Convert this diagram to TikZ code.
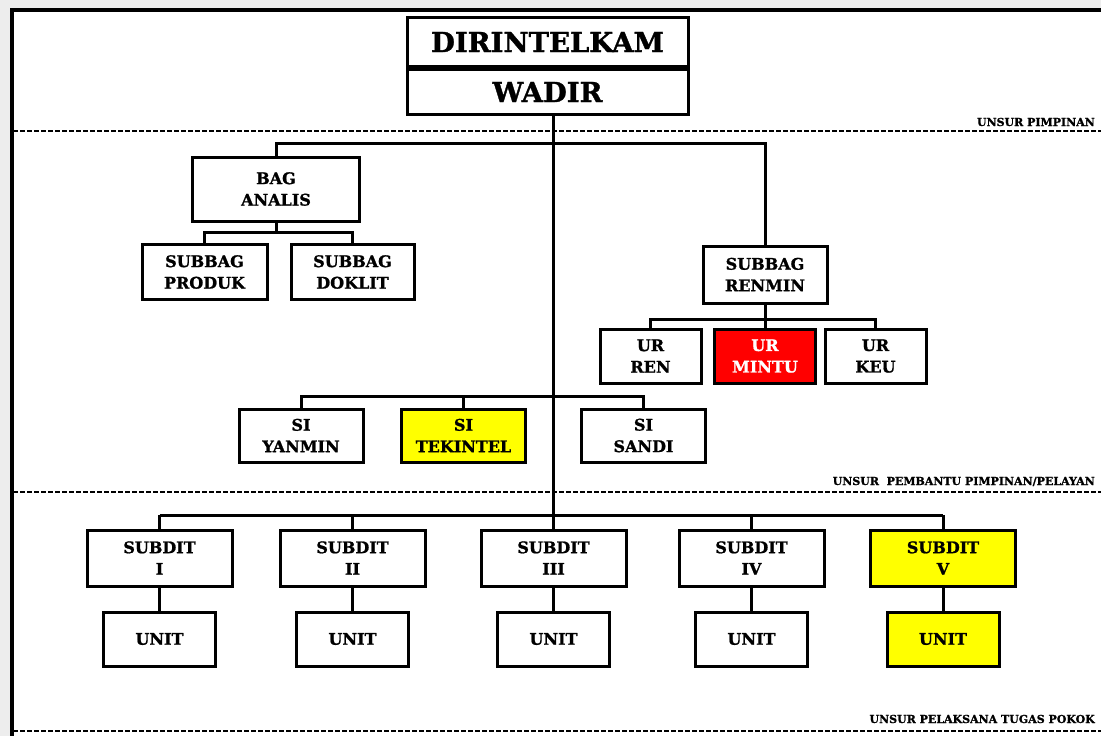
\documentclass[tikz,border=0pt]{standalone}
\usepackage{fontspec}
\setmainfont{DejaVu Serif}[BoldFeatures={FakeBold=1.2}]
\usetikzlibrary{positioning}
\definecolor{framegray}{HTML}{EDEDED}
\definecolor{hiyellow}{RGB}{255,255,0}
\definecolor{hired}{RGB}{255,0,0}
\tikzset{
	box/.style={draw, line width=3pt, fill=white, align=center, inner sep=0pt,
		minimum height=55pt, font=\bfseries\fontsize{16}{21.5}\selectfont},
	headbox/.style={box, minimum width=281pt, font=\bfseries\fontsize{27.5}{30}\selectfont},
	conn/.style={line width=3pt},
	sect/.style={line width=2pt, dash pattern=on 5pt off 2pt},
	lbl/.style={anchor=base east, inner sep=0pt, font=\bfseries\fontsize{11}{13}\selectfont}
}
\begin{document}
\begin{tikzpicture}[x=1pt,y=-1pt]
			%%%%% FRAME %%%%%
			\useasboundingbox (0,0) rectangle (1101,736);
			\fill[framegray] (0,0) rectangle (1101,736);
			\fill[white] (12,10) rectangle (1101,736);
			\draw[line width=3.5pt] (12,740) -- (12,10) -- (1105,10);
			
			%%%%% SECTIONS %%%%%
			\draw[sect] (13,131) -- (1101,131);
			\draw[sect] (13,492) -- (1101,492);
			\draw[sect] (13,731) -- (1101,731);
			\node[lbl] (lpim) at (1095,126) {UNSUR PIMPINAN};
			\node[lbl] (lpem) at (1095,485) {UNSUR~ PEMBANTU PIMPINAN/PELAYAN};
			\node[lbl] (lpel) at (1095,723) {UNSUR PELAKSANA TUGAS POKOK};
			
			%%%%% PIMPINAN %%%%%
			\node[headbox, minimum height=49pt] (dir) at (547.5,42) {DIRINTELKAM};
			\node[headbox, minimum height=45pt, below=0pt of dir] (wadir) {WADIR};
			
			%%%%% BAG ANALIS / RENMIN %%%%%
			\node[box, minimum width=167pt, minimum height=64pt] (bag) at (276,189) {BAG\\ANALIS};
			\node[box, minimum width=125pt] (produk) at (204.5,272) {SUBBAG\\PRODUK};
			\node[box, minimum width=123pt] (doklit) at (352.5,272) {SUBBAG\\DOKLIT};
			\node[box, minimum width=124pt, minimum height=57pt] (renmin) at (765,274.5) {SUBBAG\\RENMIN};
			\node[box, minimum width=101pt, minimum height=54pt] (urren) at (650.5,356) {UR\\REN};
			\node[box, minimum width=101pt, minimum height=54pt, fill=hired, text=white] (urmintu) at (765,356) {UR\\MINTU};
			\node[box, minimum width=101pt, minimum height=54pt] (urkeu) at (875.5,356) {UR\\KEU};
			
			%%%%% SI %%%%%
			\node[box, minimum width=124pt, minimum height=53pt] (yanmin) at (301,435.5) {SI\\YANMIN};
			\node[box, minimum width=124pt, minimum height=53pt, fill=hiyellow] (tekintel) at (463.5,435.5) {SI\\TEKINTEL};
			\node[box, minimum width=124pt, minimum height=53pt] (sandi) at (643.5,435.5) {SI\\SANDI};
			
			%%%%% SUBDIT %%%%%
			\coordinate (subbus) at (0,515);
			\foreach \n/\r/\x/\c in {1/I/159.5/white, 2/II/352.5/white, 3/III/553.5/white, 4/IV/751.5/white, 5/V/943/hiyellow}{
				\node[box, minimum width=145pt, minimum height=56pt, fill=\c] (sub\n) at (\x,558) {SUBDIT\\\r};
				\node[box, minimum width=112pt, minimum height=54pt, fill=\c] (unit\n) at (\x,639) {UNIT};
				\draw[conn] (sub\n.south) -- (unit\n.north);
				\draw[conn] (sub\n.north) -- (sub\n.north |- subbus);
			}
			\draw[conn] (sub1.north |- subbus) -- (sub5.north |- subbus);
			
			%%%%% LINES %%%%%
			\coordinate (bar) at (0,143);
			\coordinate (bagbus) at (0,232);
			\coordinate (urbus) at (0,319);
			\coordinate (sibus) at (0,396);
			\draw[conn] (wadir.south -| sub3.north) -- (sub3.north |- subbus);
			\draw[conn] (bag.north) -- (bag.north |- bar) -- (renmin.north |- bar) -- (renmin.north);
			\draw[conn] (bag.south) -- (bag.south |- bagbus);
			\draw[conn] (produk.north) -- (produk.north |- bagbus) -- (doklit.north |- bagbus) -- (doklit.north);
			\draw[conn] (renmin.south) -- (urmintu.north);
			\draw[conn] (urren.north) -- (urren.north |- urbus) -- (urkeu.north |- urbus) -- (urkeu.north);
			\draw[conn] (yanmin.north) -- (yanmin.north |- sibus) -- (sandi.north |- sibus) -- (sandi.north);
			\draw[conn] (tekintel.north) -- (tekintel.north |- sibus);
		\end{tikzpicture}
\end{document}
